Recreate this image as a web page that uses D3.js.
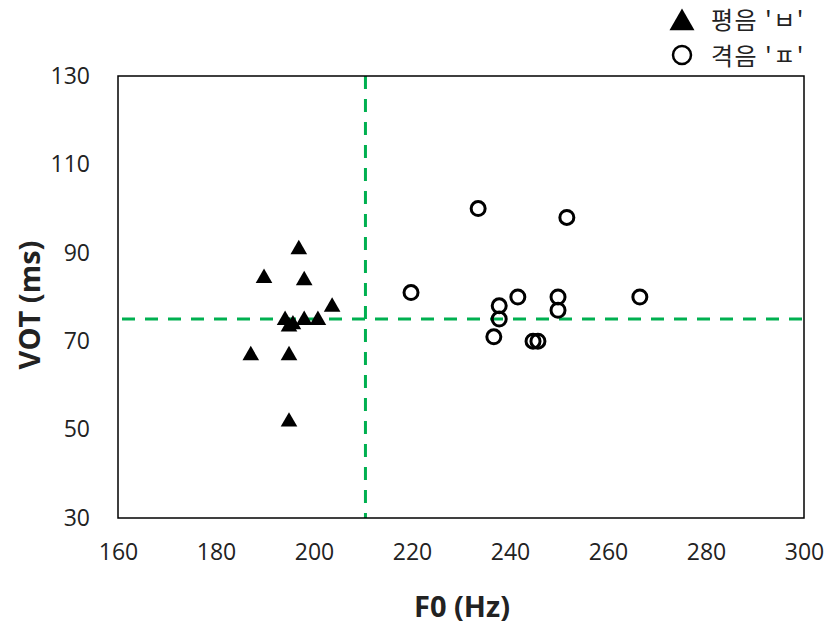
<!DOCTYPE html>
<html><head><meta charset="utf-8">
<script src="https://cdn.jsdelivr.net/npm/d3@7"></script>
<style>body{margin:0;background:#fff}</style>
</head><body><svg id="c" width="827" height="625"></svg>
<script>
const plainF0 = [196.9, 189.8, 198.0, 203.7, 194.1, 194.9, 195.7, 198.0, 200.8, 187.1, 194.9, 194.9];
const plainVOT = [91, 84.5, 84, 78, 75, 73.5, 74, 75, 75, 67, 67, 52];
const aspF0 = [233.5, 251.6, 219.8, 237.8, 241.6, 237.8, 236.7, 244.7, 245.7, 249.8, 249.8, 266.5];
const aspVOT = [100, 98, 81, 78, 80, 75, 71, 70, 70, 80, 77, 80];
const xTicks = [160, 180, 200, 220, 240, 260, 280, 300];
const yTicks = [30, 50, 70, 90, 110, 130];
const refF0 = 210.5, refVOT = 75;
const legendLabels = ["평음 'ㅂ'", "격음 'ㅍ'"];

const svg = d3.select("#c");
const L = 118, R = 804, T = 76, B = 518;
const x = d3.scaleLinear().domain([160, 300]).range([L, R]);
const y = d3.scaleLinear().domain([30, 130]).range([B, T]);
const font = "'Open Sans', sans-serif";

// axes (labels only)
const xa = svg.append("g").attr("transform", `translate(0,${B})`)
  .call(d3.axisBottom(x).tickValues(xTicks).tickSize(0).tickPadding(26));
xa.select(".domain").remove();
xa.selectAll("text").attr("font-family", font).attr("font-size", 23).attr("fill", "#222");
const ya = svg.append("g").attr("transform", `translate(${L},0)`)
  .call(d3.axisLeft(y).tickValues(yTicks).tickSize(0).tickPadding(28));
ya.select(".domain").remove();
ya.selectAll("text").attr("font-family", font).attr("font-size", 23).attr("fill", "#222");

// reference lines
svg.append("line").attr("x1", x(refF0)).attr("x2", x(refF0)).attr("y1", T).attr("y2", B)
  .attr("stroke", "#00B050").attr("stroke-width", 3).attr("stroke-dasharray", "13,10");
svg.append("line").attr("x1", L + 4).attr("x2", R).attr("y1", y(refVOT)).attr("y2", y(refVOT))
  .attr("stroke", "#00B050").attr("stroke-width", 3).attr("stroke-dasharray", "13,10");

// frame
svg.append("rect").attr("x", L).attr("y", T).attr("width", R - L).attr("height", B - T)
  .attr("fill", "none").attr("stroke", "#000").attr("stroke-width", 1.5);

const tri = d3.symbol().type(d3.symbolTriangle).size(120);
svg.append("g").selectAll("path").data(plainF0.map((f, i) => [f, plainVOT[i]])).join("path")
  .attr("d", tri).attr("transform", d => `translate(${x(d[0])},${y(d[1]) + 1})`).attr("fill", "#000");

svg.append("g").selectAll("circle").data(aspF0.map((f, i) => [f, aspVOT[i]])).join("circle")
  .attr("cx", d => x(d[0])).attr("cy", d => y(d[1])).attr("r", 7)
  .attr("fill", "none").attr("stroke", "#000").attr("stroke-width", 3);

// titles
svg.append("text").attr("x", 462).attr("y", 617).attr("text-anchor", "middle")
  .attr("font-family", font).attr("font-weight", "bold").attr("font-size", 29).attr("fill", "#222").text("F0 (Hz)");
svg.append("text").attr("transform", `translate(40,305) rotate(-90)`).attr("text-anchor", "middle")
  .attr("font-family", font).attr("font-weight", "bold").attr("font-size", 29).attr("fill", "#222").text("VOT (ms)");

// legend
const lg = svg.append("g");
lg.append("path").attr("d", d3.symbol().type(d3.symbolTriangle).size(270)).attr("transform", "translate(682,23)").attr("fill", "#000");
lg.append("circle").attr("cx", 682).attr("cy", 55).attr("r", 9).attr("fill", "none").attr("stroke", "#000").attr("stroke-width", 2.5);
lg.selectAll("text").data(legendLabels).join("text")
  .attr("x", 711).attr("y", (d, i) => 29 + i * 36)
  .attr("font-family", "'Noto Sans CJK KR', sans-serif").attr("font-size", 24).attr("letter-spacing", 1.5).attr("fill", "#222")
  .attr("xml:space", "preserve").text(d => d);
</script></body></html>
